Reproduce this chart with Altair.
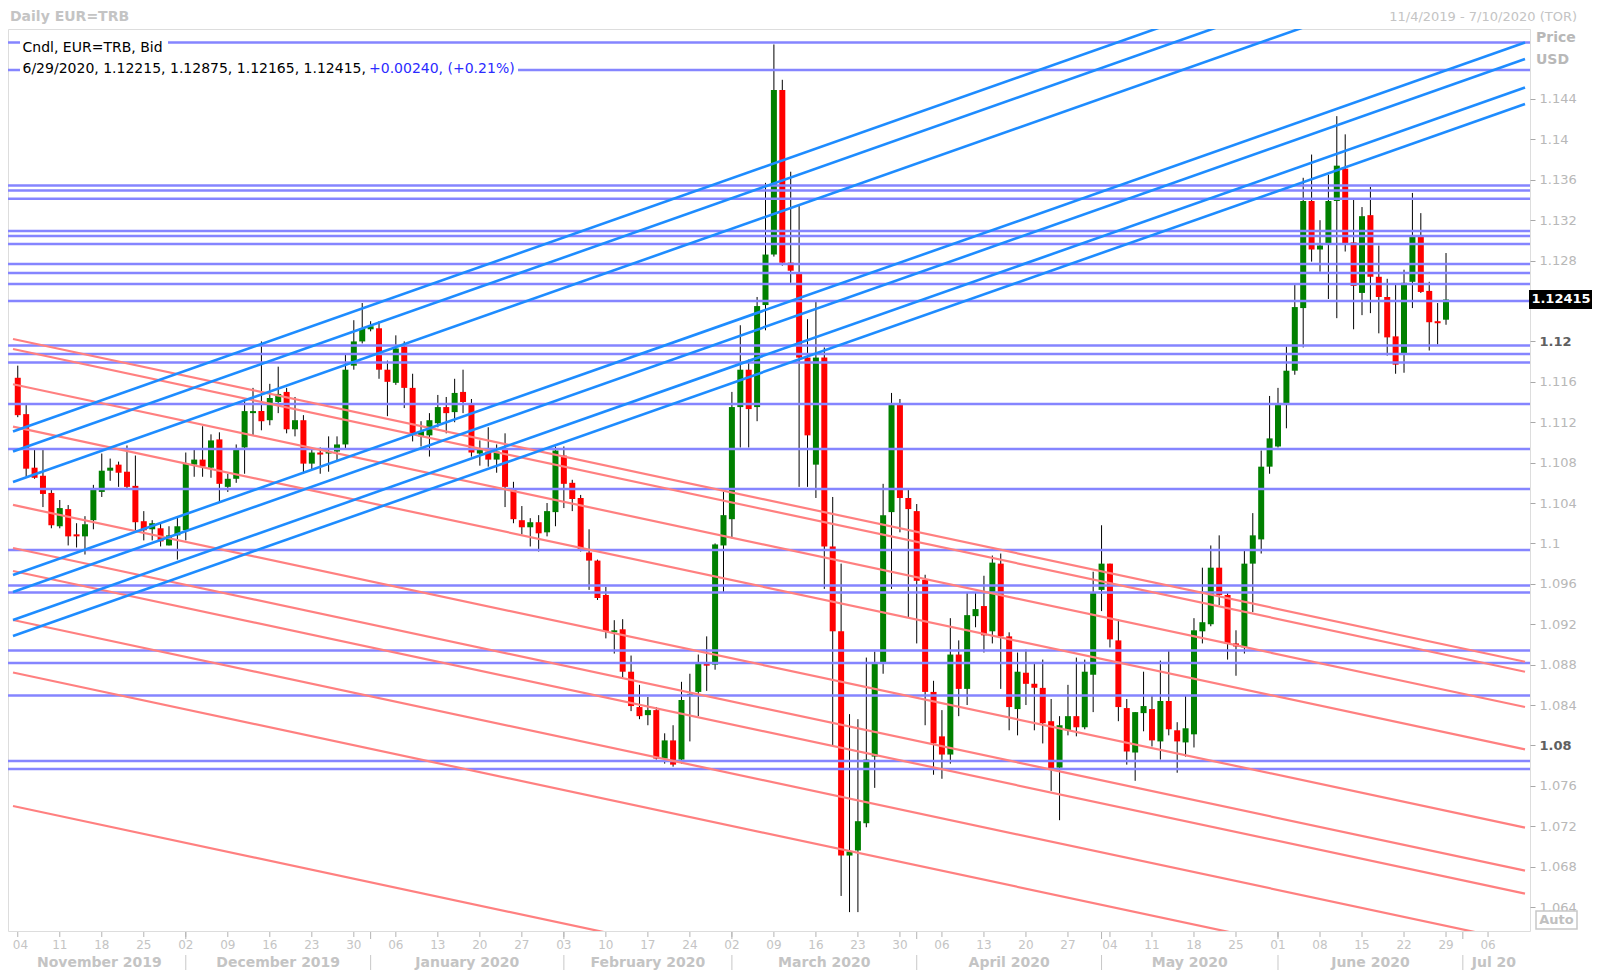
import altair as alt
import numpy as np
import pandas as pd

W, H = 1522, 902
X_DOMAIN = [-0.567, 179.4]
Y_DOMAIN = [1.06163, 1.15093]

# ---------------- candle data (trading days from 4 Nov 2019) ----------------
opens = [
    1.1164, 1.1128, 1.1075, 1.1067, 1.1050, 1.1017, 1.1034, 1.1009, 1.1007, 1.1023,
    1.1051, 1.1072, 1.1078, 1.1071, 1.1057, 1.1022, 1.1014, 1.1015, 1.0998, 1.1008,
    1.1013, 1.1078, 1.1083, 1.1075, 1.1103, 1.1056, 1.1064, 1.1095, 1.1129, 1.1131,
    1.1122, 1.1140, 1.1150, 1.1113, 1.1122, 1.1079, 1.1090, 1.1089, 1.1091, 1.1098,
    1.1176, 1.1200, 1.1212, 1.1213, 1.1172, 1.1159, 1.1195, 1.1154, 1.1106, 1.1107,
    1.1119, 1.1135, 1.1130, 1.1150, 1.1138, 1.1089, 1.1091, 1.1083, 1.1093, 1.1054,
    1.1023, 1.1016, 1.1021, 1.1011, 1.1031, 1.1087, 1.1060, 1.1045, 1.0991, 1.0983,
    1.0949, 1.0912, 1.0915, 1.0873, 1.0838, 1.0830, 1.0835, 1.0787, 1.0805, 1.0786,
    1.0849, 1.0853, 1.0881, 1.0880, 1.0998, 1.1024, 1.1135, 1.1172, 1.1135, 1.1236,
    1.1286, 1.1449, 1.1278, 1.1267, 1.1184, 1.1078, 1.1184, 1.0997, 1.0913, 1.0691,
    1.0696, 1.0723, 1.0789, 1.0882, 1.1031, 1.1137, 1.1045, 1.1032, 1.0964, 1.0853,
    1.0809, 1.0791, 1.0890, 1.0856, 1.0928, 1.0938, 1.0913, 1.0980, 1.0908, 1.0836,
    1.0872, 1.0861, 1.0857, 1.0824, 1.0778, 1.0815, 1.0829, 1.0818, 1.0870, 1.0954,
    1.0980, 1.0904, 1.0837, 1.0793, 1.0832, 1.0836, 1.0804, 1.0844, 1.0815, 1.0803,
    1.0811, 1.0913, 1.0920, 1.0976, 1.0949, 1.0901, 1.0897, 1.0980, 1.1004, 1.1076,
    1.1096, 1.1137, 1.1171, 1.1233, 1.1339, 1.1291, 1.1296, 1.1339, 1.1371, 1.1298,
    1.1248, 1.1325, 1.1264, 1.1244, 1.1205, 1.1187, 1.1259, 1.1304, 1.1250, 1.1220,
    1.12215,
]
highs = [
    1.1176, 1.1137, 1.1093, 1.1093, 1.1053, 1.1043, 1.1038, 1.1020, 1.1027, 1.1058,
    1.1089, 1.1084, 1.1081, 1.1097, 1.1087, 1.1032, 1.1023, 1.1021, 1.1017, 1.1027,
    1.1090, 1.1093, 1.1116, 1.1108, 1.1110, 1.1069, 1.1098, 1.1143, 1.1154, 1.1200,
    1.1158, 1.1175, 1.1154, 1.1145, 1.1127, 1.1095, 1.1095, 1.1106, 1.1106, 1.1187,
    1.1221, 1.1238, 1.1220, 1.1220, 1.1181, 1.1206, 1.1200, 1.1168, 1.1121, 1.1129,
    1.1147, 1.1145, 1.1163, 1.1172, 1.1143, 1.1102, 1.1115, 1.1098, 1.1109, 1.1061,
    1.1037, 1.1025, 1.1028, 1.1040, 1.1096, 1.1096, 1.1063, 1.1048, 1.1014, 1.0984,
    1.0957, 1.0924, 1.0925, 1.0889, 1.0860, 1.0848, 1.0838, 1.0812, 1.0820, 1.0863,
    1.0871, 1.0890, 1.0908, 1.1000, 1.1051, 1.1150, 1.1216, 1.1182, 1.1244, 1.1357,
    1.1494, 1.1459, 1.1368, 1.1334, 1.1222, 1.1239, 1.1194, 1.1046, 1.0980, 1.0831,
    1.0826, 1.0887, 1.0893, 1.1059, 1.1149, 1.1143, 1.1053, 1.1039, 1.0969, 1.0864,
    1.0835, 1.0926, 1.0904, 1.0951, 1.0951, 1.0968, 1.0988, 1.0990, 1.0912, 1.0892,
    1.0895, 1.0881, 1.0885, 1.0846, 1.0829, 1.0860, 1.0887, 1.0885, 1.0972, 1.1018,
    1.0980, 1.0925, 1.0846, 1.0833, 1.0873, 1.0849, 1.0884, 1.0894, 1.0823, 1.0849,
    1.0926, 1.0976, 1.0998, 1.1008, 1.0951, 1.0914, 1.0993, 1.1030, 1.1092, 1.1146,
    1.1154, 1.1195, 1.1257, 1.1362, 1.1385, 1.1320, 1.1365, 1.1423, 1.1405, 1.1340,
    1.1333, 1.1353, 1.1295, 1.1262, 1.1256, 1.1271, 1.1347, 1.1327, 1.1259, 1.1238,
    1.12875,
]
lows = [
    1.1125, 1.1066, 1.1064, 1.1036, 1.1015, 1.1015, 1.0998, 1.0996, 1.0989, 1.1014,
    1.1046, 1.1062, 1.1056, 1.1053, 1.1013, 1.1003, 1.1003, 1.0997, 1.0998, 1.0984,
    1.1003, 1.1066, 1.1066, 1.1065, 1.1040, 1.1051, 1.1060, 1.1069, 1.1107, 1.1112,
    1.1117, 1.1129, 1.1109, 1.1106, 1.1069, 1.1073, 1.1069, 1.1071, 1.1082, 1.1094,
    1.1172, 1.1198, 1.1210, 1.1163, 1.1126, 1.1157, 1.1134, 1.1101, 1.1096, 1.1086,
    1.1115, 1.1109, 1.1120, 1.1129, 1.1086, 1.1077, 1.1076, 1.1070, 1.1036, 1.1020,
    1.1009, 1.0997, 1.0992, 1.1007, 1.1017, 1.1035, 1.1032, 1.0992, 1.0954, 1.0944,
    1.0906, 1.0891, 1.0867, 1.0834, 1.0826, 1.0820, 1.0786, 1.0782, 1.0779, 1.0782,
    1.0804, 1.0829, 1.0854, 1.0875, 1.0951, 1.1005, 1.1095, 1.1095, 1.1121, 1.1211,
    1.1284, 1.1275, 1.1258, 1.1056, 1.1056, 1.1045, 1.0955, 1.0800, 1.0651, 1.0635,
    1.0635, 1.0719, 1.0758, 1.0871, 1.0955, 1.1011, 1.0927, 1.0901, 1.0820, 1.0771,
    1.0767, 1.0782, 1.0829, 1.0840, 1.0917, 1.0892, 1.0901, 1.0856, 1.0815, 1.0810,
    1.0840, 1.0815, 1.0802, 1.0755, 1.0726, 1.0810, 1.0809, 1.0816, 1.0833, 1.0933,
    1.0897, 1.0824, 1.0781, 1.0765, 1.0814, 1.0799, 1.0786, 1.0810, 1.0773, 1.0789,
    1.0798, 1.0901, 1.0918, 1.0939, 1.0885, 1.0869, 1.0891, 1.0932, 1.0990, 1.1069,
    1.1095, 1.1114, 1.1167, 1.1194, 1.1279, 1.1269, 1.1242, 1.1223, 1.1289, 1.1212,
    1.1226, 1.1228, 1.1208, 1.1186, 1.1168, 1.1169, 1.1233, 1.1248, 1.1191, 1.1197,
    1.12165,
]
closes = [
    1.1127, 1.1074, 1.1065, 1.1049, 1.1018, 1.1035, 1.1007, 1.1007, 1.1019, 1.1053,
    1.1072, 1.1075, 1.1070, 1.1056, 1.1021, 1.1013, 1.1020, 1.1002, 1.1008, 1.1017,
    1.1079, 1.1083, 1.1076, 1.1102, 1.1059, 1.1064, 1.1093, 1.1131, 1.1131, 1.1121,
    1.1144, 1.1148, 1.1113, 1.1122, 1.1079, 1.1090, 1.1088, 1.1091, 1.1098, 1.1172,
    1.1200, 1.1213, 1.1215, 1.1172, 1.1160, 1.1193, 1.1154, 1.1109, 1.1111, 1.1122,
    1.1135, 1.1129, 1.1149, 1.1140, 1.1090, 1.1093, 1.1083, 1.1091, 1.1056, 1.1024,
    1.1016, 1.1021, 1.1010, 1.1032, 1.1092, 1.1059, 1.1044, 1.0994, 1.0983, 1.0946,
    1.0913, 1.0914, 1.0873, 1.0839, 1.0829, 1.0835, 1.0787, 1.0805, 1.0781, 1.0845,
    1.0851, 1.0881, 1.0879, 1.0999, 1.1028, 1.1135, 1.1172, 1.1133, 1.1235, 1.1286,
    1.1449, 1.1278, 1.1270, 1.1184, 1.1107, 1.1184, 1.0997, 1.0913, 1.0691, 1.0695,
    1.0725, 1.0786, 1.0882, 1.1028, 1.1137, 1.1045, 1.1034, 1.0963, 1.0853, 1.0802,
    1.0791, 1.0890, 1.0856, 1.0929, 1.0935, 1.0909, 1.0981, 1.0908, 1.0838, 1.0873,
    1.0861, 1.0857, 1.0822, 1.0777, 1.0820, 1.0829, 1.0818, 1.0873, 1.0951, 1.0980,
    1.0905, 1.0838, 1.0794, 1.0833, 1.0839, 1.0805, 1.0844, 1.0816, 1.0804, 1.0817,
    1.0914, 1.0922, 1.0976, 1.0949, 1.0901, 1.0898, 1.0980, 1.1008, 1.1076, 1.1104,
    1.1137, 1.1171, 1.1234, 1.1339, 1.1291, 1.1295, 1.1339, 1.1374, 1.1296, 1.1255,
    1.1324, 1.1264, 1.1244, 1.1204, 1.1177, 1.1258, 1.1304, 1.1249, 1.1219, 1.1218,
    1.12415,
]

# ---------------- drawing tools (horizontal levels and trend lines) ----------------
h_levels = [1.14959, 1.14687, 1.13543, 1.13493, 1.13412, 1.13093, 1.13044, 1.12964,
            1.12766, 1.12677, 1.12568, 1.12400, 1.11959, 1.11876, 1.11791, 1.11380,
            1.10935, 1.10539, 1.09935, 1.09583, 1.09515, 1.08939, 1.08816, 1.08494,
            1.07846, 1.07767]
blue_start = [1.11108, 1.10910, 1.10608, 1.09688, 1.09519, 1.09242, 1.09084]
blue_end = [1.16382, 1.16184, 1.15882, 1.14959, 1.14796, 1.14514, 1.14350]
red_start = [1.12024, 1.11925, 1.11576, 1.11156, 1.10381, 1.09955, 1.09727,
             1.09242, 1.08722, 1.07401]
red_end = [1.08829, 1.08730, 1.08381, 1.07961, 1.07186, 1.06760, 1.06533,
           1.06047, 1.05528, 1.04206]

# ---------------- axis texts ----------------
day_labels = ["04", "11", "18", "25", "02", "09", "16", "23", "30", "06", "13", "20",
              "27", "03", "10", "17", "24", "02", "09", "16", "23", "30", "06", "13",
              "20", "27", "04", "11", "18", "25", "01", "08", "15", "22", "29", "06"]
month_names = ["November 2019", "December 2019", "January 2020", "February 2020",
               "March 2020", "April 2020", "May 2020", "June 2020", "Jul 20"]
month_starts = [20, 42, 65, 85, 107, 129, 150, 172]
y_ticks = [1.064, 1.068, 1.072, 1.076, 1.08, 1.084, 1.088, 1.092, 1.096, 1.1, 1.104,
           1.108, 1.112, 1.116, 1.12, 1.128, 1.132, 1.136, 1.14, 1.144]
last_price = 1.12415
last_label = "1.12415"
legend_line1 = "Cndl, EUR=TRB, Bid"
legend_line2a = "6/29/2020, 1.12215, 1.12875, 1.12165, 1.12415, "
legend_line2b = "+0.00240, (+0.21%)"

# ---------------- frames ----------------
n = len(opens)
cd = pd.DataFrame({"i": list(range(n)), "o": opens, "h": highs, "l": lows, "c": closes})
cd["lo"] = cd[["o", "c"]].min(axis=1)
cd["hi"] = cd[["o", "c"]].max(axis=1)
thin = (cd["hi"] - cd["lo"]) < 0.0001
cd.loc[thin, "hi"] = cd.loc[thin, "lo"] + 0.0001
cd["dir"] = np.where(cd["c"] >= cd["o"], "up", "down")

blue_df = pd.DataFrame({"x1": X_DOMAIN[0], "x2": X_DOMAIN[1], "y1": blue_start, "y2": blue_end})
red_df = pd.DataFrame({"x1": X_DOMAIN[0], "x2": X_DOMAIN[1], "y1": red_start, "y2": red_end})
h_df = pd.DataFrame({"p": h_levels})

tick_df = pd.DataFrame({"i": [5 * k for k in range(len(day_labels))], "t": day_labels})
bounds = [X_DOMAIN[0]] + month_starts + [X_DOMAIN[1]]
month_df = pd.DataFrame({"m": [(bounds[k] + bounds[k + 1]) / 2 for k in range(len(month_names))],
                         "t": month_names})
sep_df = pd.DataFrame({"m": month_starts})

xs = alt.Scale(domain=X_DOMAIN, nice=False, zero=False)
ys = alt.Scale(domain=Y_DOMAIN, nice=False, zero=False)
cond = "abs(datum.value - 1.12) < 1e-6 || abs(datum.value - 1.08) < 1e-6"
yaxis = alt.Axis(orient="right", values=y_ticks, format=".3~f", title=None, grid=False,
                 domain=False, tickSize=5, tickColor="#a8a8a8", labelPadding=4,
                 labelFontSize=13, labelFont="DejaVu Sans", labelOverlap=False,
                 labelColor={"condition": {"test": cond, "value": "#606060"}, "value": "#b8b8b8"},
                 labelFontWeight={"condition": {"test": cond, "value": "bold"}, "value": "normal"})


def X(f):
    return alt.X(f"{f}:Q", scale=xs, axis=None)


def Y(f):
    return alt.Y(f"{f}:Q", scale=ys, axis=yaxis)


def txt(t):
    return alt.Chart(pd.DataFrame({"t": [t]}))


wicks = alt.Chart(cd).mark_rule(color="black", strokeWidth=1).encode(
    x=X("i"), y=Y("l"), y2=alt.Y2("h"))
bodies = alt.Chart(cd).mark_bar(size=6).encode(
    x=X("i"), y=Y("lo"), y2=alt.Y2("hi"),
    color=alt.Color("dir:N", scale=alt.Scale(domain=["up", "down"], range=["#008000", "#ff0000"]),
                    legend=None))
hl = alt.Chart(h_df).mark_rule(color="#8585ff", strokeWidth=2.5).encode(y=Y("p"))
reds = alt.Chart(red_df).mark_rule(color="#ff8080", strokeWidth=2.2, clip=True).encode(
    x=X("x1"), x2=alt.X2("x2"), y=Y("y1"), y2=alt.Y2("y2"))
blues = alt.Chart(blue_df).mark_rule(color="#1e8cff", strokeWidth=2.6, clip=True).encode(
    x=X("x1"), x2=alt.X2("x2"), y=Y("y1"), y2=alt.Y2("y2"))

bg1 = txt("a").mark_rect(color="white").encode(
    x=alt.value(12), x2=alt.value(160), y=alt.value(11), y2=alt.value(26))
bg2 = txt("b").mark_rect(color="white").encode(
    x=alt.value(12), x2=alt.value(510), y=alt.value(33), y2=alt.value(48))
leg1 = txt(legend_line1).mark_text(align="left", baseline="middle", fontSize=14, color="black").encode(
    x=alt.value(14.5), y=alt.value(18.5), text="t:N")
leg2a = txt(legend_line2a).mark_text(align="left", baseline="middle", fontSize=14, color="black").encode(
    x=alt.value(14.5), y=alt.value(40), text="t:N")
leg2b = txt(legend_line2b).mark_text(align="left", baseline="middle", fontSize=14, color="#2b2bff").encode(
    x=alt.value(361), y=alt.value(40), text="t:N")

lp = pd.DataFrame({"p": [last_price], "t": [last_label]})
pbox = alt.Chart(lp).mark_rule(color="black", strokeWidth=19).encode(
    x=alt.value(W - 1), x2=alt.value(W + 63), y=Y("p"))
ptxt = alt.Chart(lp).mark_text(color="white", fontWeight="bold", fontSize=13, align="center",
                               baseline="middle").encode(x=alt.value(W + 31), y=Y("p"), text="t:N")

gray = "#c4c4c4"
dticks = alt.Chart(tick_df).mark_rule(color="#b4b4b4").encode(
    x=X("i"), y=alt.value(H + 1), y2=alt.value(H + 6))
mticks = alt.Chart(sep_df).mark_rule(color="#b4b4b4").encode(
    x=X("m"), y=alt.value(H + 1), y2=alt.value(H + 8))
dlabels = alt.Chart(tick_df.iloc[1:]).mark_text(fontSize=12, color=gray, baseline="middle").encode(
    x=X("i"), y=alt.value(H + 14), text="t:N")
dfirst = txt(day_labels[0]).mark_text(fontSize=12, color=gray, baseline="middle").encode(
    x=alt.value(12.4), y=alt.value(H + 14), text="t:N")
seps = alt.Chart(sep_df).mark_rule(color="#c8c8c8").encode(
    x=X("m"), y=alt.value(H + 24), y2=alt.value(H + 40))
mlabels = alt.Chart(month_df).mark_text(fontSize=14, fontWeight="bold", color=gray,
                                         baseline="middle").encode(
    x=X("m"), y=alt.value(H + 32), text="t:N")

title = txt("Daily EUR=TRB").mark_text(align="left", baseline="middle", fontSize=14,
                                       fontWeight="bold", color=gray).encode(
    x=alt.value(2), y=alt.value(-12), text="t:N")
rng = txt("11/4/2019 - 7/10/2020 (TOR)").mark_text(align="right", baseline="middle", fontSize=13,
                                                   color=gray).encode(
    x=alt.value(1569), y=alt.value(-12), text="t:N")
price_t = txt("Price").mark_text(align="left", baseline="middle", fontSize=14, fontWeight="bold",
                                 color="#b8b8b8").encode(x=alt.value(1528), y=alt.value(9), text="t:N")
usd_t = txt("USD").mark_text(align="left", baseline="middle", fontSize=14, fontWeight="bold",
                             color="#b8b8b8").encode(x=alt.value(1528), y=alt.value(31), text="t:N")
auto_box = txt("box").mark_rect(fill="white", stroke="#c8c8c8", strokeWidth=1.5).encode(
    x=alt.value(1528), x2=alt.value(1569), y=alt.value(882), y2=alt.value(900))
auto_t = txt("Auto").mark_text(align="center", baseline="middle", fontSize=13, fontWeight="bold",
                               color="#c0c0c0").encode(x=alt.value(1548.5), y=alt.value(891), text="t:N")

chart = alt.layer(
    wicks, bodies, hl, reds, blues, bg1, bg2, leg1, leg2a, leg2b, pbox, ptxt,
    dticks, mticks, dlabels, dfirst, seps, mlabels, title, rng, price_t, usd_t, auto_box, auto_t,
).properties(
    width=W, height=H,
    autosize=alt.AutoSizeParams(type="none"),
    padding={"left": 0, "top": 21, "right": 62, "bottom": 39},
    background="white",
).configure_view(
    stroke="#a0a0a0", strokeWidth=1.5
).configure(font="DejaVu Sans")

chart.save("out.html", embed_options={"renderer": "svg", "actions": False})
